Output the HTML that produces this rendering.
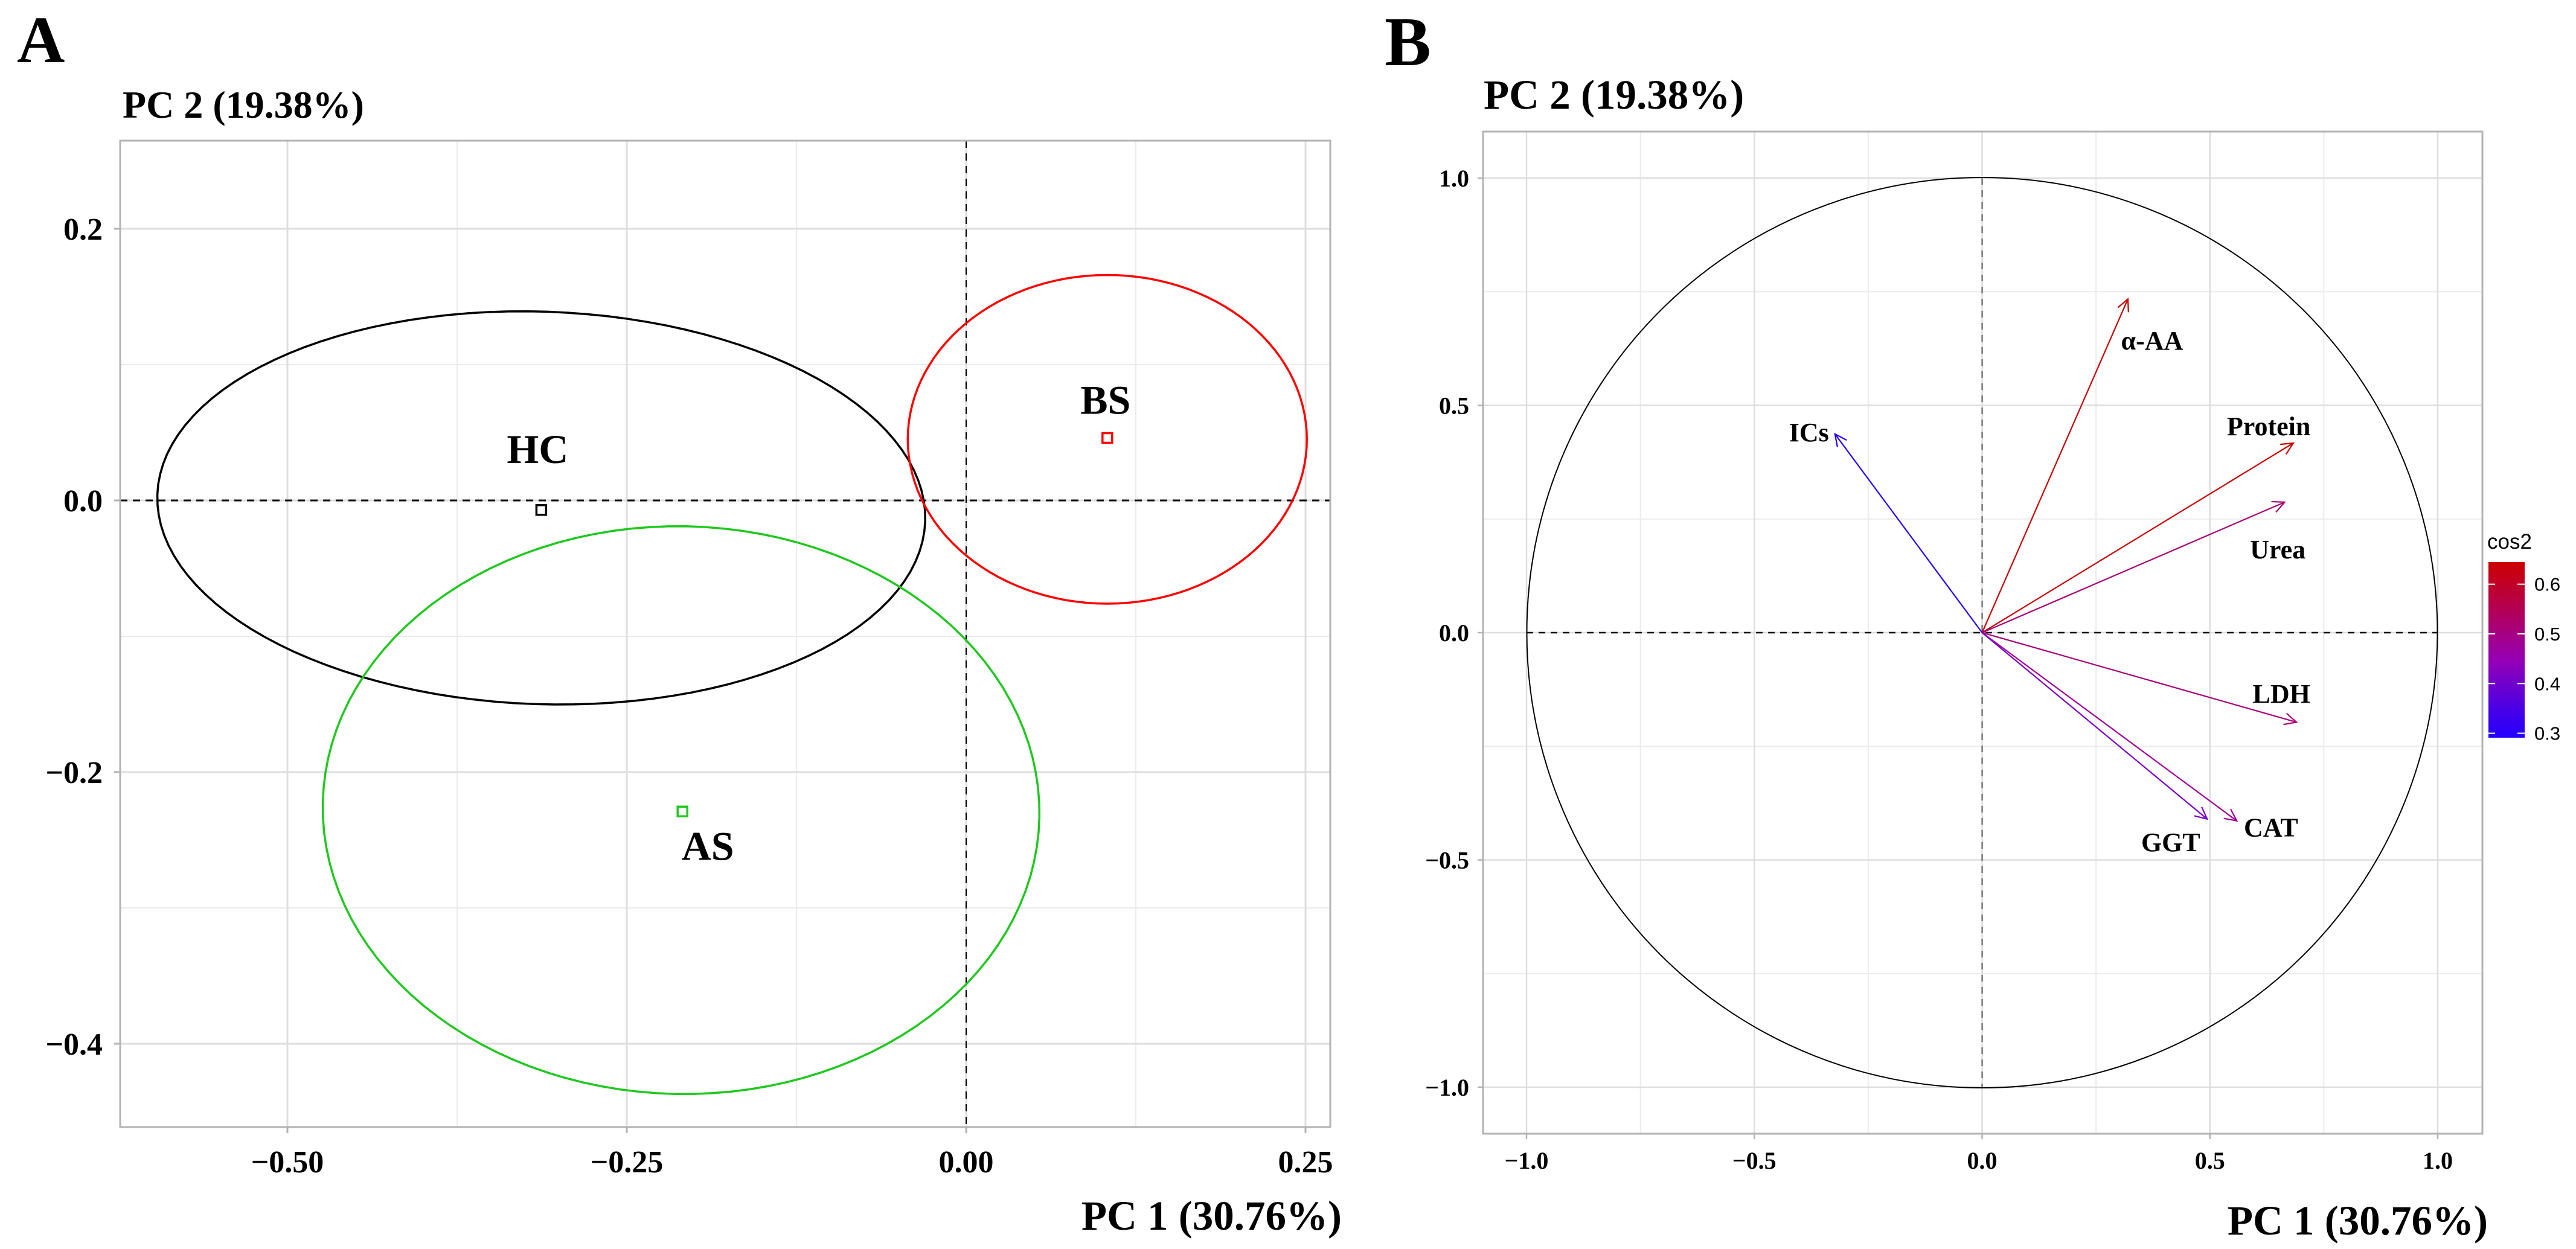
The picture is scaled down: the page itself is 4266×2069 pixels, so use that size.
<!DOCTYPE html>
<html><head><meta charset="utf-8">
<style>
html,body{margin:0;padding:0;background:#fff;}
svg{display:block;}
text{font-family:"Liberation Serif",serif;font-weight:bold;fill:#000;}
.sans{font-family:"Liberation Sans",sans-serif;font-weight:normal;}
</style></head>
<body>
<svg id="fig" width="4266" height="2069" viewBox="0 0 4266 2069" xmlns="http://www.w3.org/2000/svg">
<text x="28" y="103" font-size="110">A</text>
<text x="2293" y="108" font-size="115">B</text>
<g id="pa"></g>
<g id="pb"></g>
</svg>
<script>
// ---------- Panel A data ----------
const groupNames = ["HC", "BS", "AS"];
const groupColors = ["#000000", "#ff0000", "#1ec81e"];
const groupCenterX = [-0.313, 0.104, -0.209];
const groupCenterY = [-0.007, 0.046, -0.229];
const ellipseCx = [-0.313, 0.104, -0.210];
const ellipseCy = [-0.0055, 0.045, -0.228];
const ellipseRx = [0.283, 0.147, 0.264];
const ellipseRy = [0.1445, 0.121, 0.209];
const ellipseAngle = [-0.035, 0.0, -0.02];
const aXTicks = [-0.5, -0.25, 0, 0.25];
const aXTickLabels = ["\u22120.50", "\u22120.25", "0.00", "0.25"];
const aXMinor = [-0.375, -0.125, 0.125];
const aYTicks = [0.2, 0, -0.2, -0.4];
const aYTickLabels = ["0.2", "0.0", "\u22120.2", "\u22120.4"];
const aYMinor = [0.1, -0.1, -0.3];

// ---------- Panel B data ----------
const varNames = ["\u03b1-AA", "ICs", "Protein", "Urea", "LDH", "CAT", "GGT"];
const varX = [0.32, -0.323, 0.683, 0.664, 0.690, 0.559, 0.494];
const varY = [0.734, 0.437, 0.417, 0.287, -0.197, -0.414, -0.410];
const labelX = [0.373, -0.380, 0.629, 0.649, 0.657, 0.634, 0.414];
const labelY = [0.643, 0.441, 0.454, 0.183, -0.134, -0.428, -0.461];
const bTicks = [-1, -0.5, 0, 0.5, 1];
const bTickLabels = ["\u22121.0", "\u22120.5", "0.0", "0.5", "1.0"];
const bMinor = [-0.75, -0.25, 0.25, 0.75];
const legendTicks = [0.3, 0.4, 0.5, 0.6];

const NS = "http://www.w3.org/2000/svg";
function mk(parent, tag, attrs, txt) {
  const e = document.createElementNS(NS, tag);
  for (const k in attrs) e.setAttribute(k, attrs[k]);
  if (txt !== undefined) e.textContent = txt;
  parent.appendChild(e);
  return e;
}

// ===== Panel A =====
const pa = document.getElementById("pa");
const A = {l:199, r:2203, t:233, b:1867};
const ax = v => 1600 + v * 2248;
const ay = v => 829 - v * 2250;
let e;
for (const v of aXMinor) { e = mk(pa, "line", {x1:ax(v), x2:ax(v), y1:A.t, y2:A.b, stroke:"#ebebeb", "stroke-width":2});
    }
for (const v of aYMinor) { e = mk(pa, "line", {x1:A.l, x2:A.r, y1:ay(v), y2:ay(v), stroke:"#ebebeb", "stroke-width":2});
    }
aXTicks.forEach((v, i) => {
  e = mk(pa, "line", {x1:ax(v), x2:ax(v), y1:A.t, y2:A.b, stroke:"#dedede", "stroke-width":3});
   
  mk(pa, "line", {x1:ax(v), x2:ax(v), y1:A.b, y2:A.b + 10, stroke:"#b3b3b3", "stroke-width":3});
  e = mk(pa, "text", {x:ax(v), y:1942, "font-size":52, "text-anchor":"middle"}, aXTickLabels[i]);
   
});
aYTicks.forEach((v, i) => {
  e = mk(pa, "line", {x1:A.l, x2:A.r, y1:ay(v), y2:ay(v), stroke:"#dedede", "stroke-width":3});
   
  mk(pa, "line", {x1:A.l - 10, x2:A.l, y1:ay(v), y2:ay(v), stroke:"#b3b3b3", "stroke-width":3});
  e = mk(pa, "text", {x:170, y:ay(v) + 18, "font-size":52, "text-anchor":"end"}, aYTickLabels[i]);
   
});
e = mk(pa, "line", {x1:A.l, x2:A.r, y1:ay(0), y2:ay(0), stroke:"#000", "stroke-width":3, "stroke-dasharray":"12 9"});
 
e = mk(pa, "line", {x1:ax(0), x2:ax(0), y1:A.t, y2:A.b, stroke:"#000", "stroke-width":2, "stroke-dasharray":"12 9"});
 
groupNames.forEach((g, i) => {
  let pts = [];
  for (let k = 0; k <= 120; k++) {
    const t = k / 120 * 2 * Math.PI, ca = Math.cos(ellipseAngle[i]), sa = Math.sin(ellipseAngle[i]);
    const x = ellipseCx[i] + ellipseRx[i] * Math.cos(t) * ca - ellipseRy[i] * Math.sin(t) * sa;
    const y = ellipseCy[i] + ellipseRx[i] * Math.cos(t) * sa + ellipseRy[i] * Math.sin(t) * ca;
    pts.push(ax(x).toFixed(1) + "," + ay(y).toFixed(1));
  }
  e = mk(pa, "polygon", {points:pts.join(" "), fill:"none", stroke:groupColors[i], "stroke-width":3.5});
   
  e = mk(pa, "rect", {x:ax(groupCenterX[i]) - 8, y:ay(groupCenterY[i]) - 8, width:16, height:16, fill:"none", stroke:groupColors[i], "stroke-width":3.5});
   
});
const labDy = [-78, -40, 80];
const labDx = [-6, -3, 42];
groupNames.forEach((g, i) => {
  e = mk(pa, "text", {x:ax(groupCenterX[i]) + labDx[i], y:ay(groupCenterY[i]) + labDy[i], "font-size":68, "text-anchor":"middle"}, g);
   
});
e = mk(pa, "rect", {x:A.l, y:A.t, width:A.r - A.l, height:A.b - A.t, fill:"none", stroke:"#b3b3b3", "stroke-width":3});
 
e = mk(pa, "text", {x:203, y:195, "font-size":64}, "PC 2 (19.38%)");
 
e = mk(pa, "text", {x:2222, y:2037, "font-size":69, "text-anchor":"end"}, "PC 1 (30.76%)");
 

// ===== Panel B =====
const pb = document.getElementById("pb");
const B = {l:2456, r:4111, t:218, b:1878};
const bx = v => 3282.5 + v * 754.5;
const by = v => 1048 - v * 753;
for (const v of bMinor) {
  e = mk(pb, "line", {x1:bx(v), x2:bx(v), y1:B.t, y2:B.b, stroke:"#ebebeb", "stroke-width":2});
   
  e = mk(pb, "line", {x1:B.l, x2:B.r, y1:by(v), y2:by(v), stroke:"#ebebeb", "stroke-width":2});
   
}
bTicks.forEach((v, i) => {
  e = mk(pb, "line", {x1:bx(v), x2:bx(v), y1:B.t, y2:B.b, stroke:"#dedede", "stroke-width":2.5});
   
  e = mk(pb, "line", {x1:B.l, x2:B.r, y1:by(v), y2:by(v), stroke:"#dedede", "stroke-width":2.5});
   
  mk(pb, "line", {x1:bx(v), x2:bx(v), y1:B.b, y2:B.b + 9, stroke:"#b3b3b3", "stroke-width":2.5});
  mk(pb, "line", {x1:B.l - 9, x2:B.l, y1:by(v), y2:by(v), stroke:"#b3b3b3", "stroke-width":2.5});
  e = mk(pb, "text", {x:bx(v), y:1936, "font-size":40, "text-anchor":"middle"}, bTickLabels[i]);
   
  e = mk(pb, "text", {x:2433, y:by(v) + 14, "font-size":40, "text-anchor":"end"}, bTickLabels[i]);
   
});
e = mk(pb, "circle", {cx:bx(0), cy:by(0), r:754, fill:"none", stroke:"#000", "stroke-width":2});
 
e = mk(pb, "line", {x1:bx(-1), x2:bx(1), y1:by(0), y2:by(0), stroke:"#000", "stroke-width":2.5, "stroke-dasharray":"11 9"});
 
e = mk(pb, "line", {x1:bx(0), x2:bx(0), y1:by(1), y2:by(-1), stroke:"#555", "stroke-width":2, "stroke-dasharray":"11 9"});
 

function lerp(a, b, t) { return Math.round(a + (b - a) * t); }
function cosColor(c) {
  const stops = [[0.29, [34, 0, 255]], [0.45, [150, 0, 180]], [0.645, [204, 0, 0]]];
  if (c <= stops[0][0]) return "rgb(" + stops[0][1] + ")";
  for (let k = 0; k < stops.length - 1; k++) {
    if (c <= stops[k + 1][0]) {
      const t = (c - stops[k][0]) / (stops[k + 1][0] - stops[k][0]);
      const a = stops[k][1], b = stops[k + 1][1];
      return "rgb(" + lerp(a[0], b[0], t) + "," + lerp(a[1], b[1], t) + "," + lerp(a[2], b[2], t) + ")";
    }
  }
  return "rgb(204,0,0)";
}
varNames.forEach((n, i) => {
  const c = varX[i] * varX[i] + varY[i] * varY[i];
  const col = cosColor(c);
  const x0 = bx(0), y0 = by(0), x1 = bx(varX[i]), y1 = by(varY[i]);
  const ang = Math.atan2(y1 - y0, x1 - x0), L = 22, w = 0.45;
  const g = mk(pb, "g", {});
  
  
  mk(g, "line", {x1:x0, y1:y0, x2:x1, y2:y1, stroke:col, "stroke-width":2.2});
  const hx1 = x1 - L * Math.cos(ang - w), hy1 = y1 - L * Math.sin(ang - w);
  const hx2 = x1 - L * Math.cos(ang + w), hy2 = y1 - L * Math.sin(ang + w);
  mk(g, "polyline", {points:hx1 + "," + hy1 + " " + x1 + "," + y1 + " " + hx2 + "," + hy2, fill:"none", stroke:col, "stroke-width":2.2});
  e = mk(pb, "text", {x:bx(labelX[i]), y:by(labelY[i]) + 15, "font-size":44, "text-anchor":"middle"}, n);
   
});
e = mk(pb, "rect", {x:B.l, y:B.t, width:B.r - B.l, height:B.b - B.t, fill:"none", stroke:"#b3b3b3", "stroke-width":3});
 
e = mk(pb, "text", {x:2457, y:180, "font-size":69}, "PC 2 (19.38%)");
 
e = mk(pb, "text", {x:4120, y:2045, "font-size":69, "text-anchor":"end"}, "PC 1 (30.76%)");
 

// legend
const lg = mk(pb, "g", {});


const defs = mk(lg, "defs", {});
const grad = mk(defs, "linearGradient", {id:"cg", x1:0, y1:1, x2:0, y2:0});
const gStops = [0.285, 0.35, 0.45, 0.55, 0.655];
gStops.forEach(s => mk(grad, "stop", {offset:((s - 0.285) / 0.37).toFixed(3), "stop-color":cosColor(s)}));
const ly = v => 1050 - (v - 0.5) * 823;
e = mk(lg, "rect", {x:4121, y:931, width:60, height:291, fill:"url(#cg)"});
 
legendTicks.forEach(v => {
  mk(lg, "line", {x1:4121, x2:4132, y1:ly(v), y2:ly(v), stroke:"#fff", "stroke-width":2});
  mk(lg, "line", {x1:4169, x2:4181, y1:ly(v), y2:ly(v), stroke:"#fff", "stroke-width":2});
  e = mk(lg, "text", {x:4197, y:ly(v) + 11, "font-size":31, class:"sans"}, v.toFixed(1));
   
});
e = mk(lg, "text", {x:4119, y:909, "font-size":35, class:"sans"}, "cos2");
 
</script>
</body></html>
